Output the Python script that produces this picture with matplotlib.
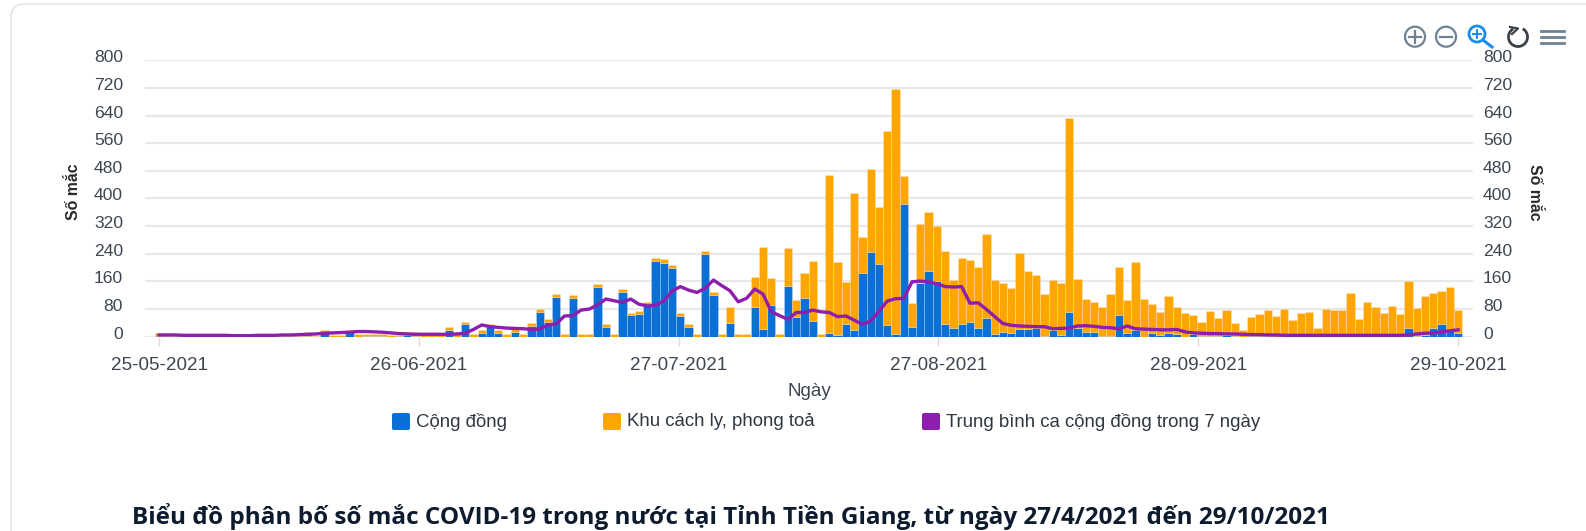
import numpy as np
import matplotlib
matplotlib.use('Agg')
import matplotlib.pyplot as plt
from matplotlib.patches import Circle, FancyBboxPatch, Arc

W, H = 1586, 531

total = [10, 3, 2, 2, 2, 2, 2, 1, 1, 0,
         0, 1, 1, 1, 1, 1, 3, 3, 15, 3,
         19, 5, 5, 19, 7, 9, 8, 7, 4, 6,
         14, 13, 4, 4, 4, 27, 7, 43, 7, 19,
         36, 19, 7, 21, 7, 39, 80, 51, 124, 7,
         121, 7, 7, 152, 37, 7, 138, 70, 74, 101,
         227, 224, 208, 68, 36, 7, 248, 129, 7, 85,
         7, 7, 174, 259, 171, 7, 256, 106, 183, 219,
         7, 467, 216, 159, 417, 289, 485, 374, 596, 716,
         465, 98, 326, 361, 319, 248, 163, 229, 221, 202,
         296, 163, 156, 140, 241, 190, 179, 123, 163, 154,
         634, 168, 108, 99, 85, 124, 203, 106, 215, 109,
         95, 72, 117, 87, 68, 63, 43, 74, 53, 77,
         41, 19, 57, 65, 77, 61, 79, 48, 70, 72,
         26, 79, 77, 76, 126, 52, 100, 85, 70, 88,
         66, 161, 84, 117, 126, 133, 145, 78]

cong_dong = [3, 0, 0, 0, 0, 0, 0, 0, 0, 0,
             0, 0, 0, 0, 0, 0, 0, 0, 2, 0,
             12, 0, 0, 15, 0, 2, 3, 3, 0, 2,
             4, 3, 0, 0, 0, 19, 0, 36, 0, 12,
             29, 12, 0, 14, 0, 31, 72, 43, 116, 0,
             111, 0, 0, 143, 29, 0, 130, 62, 66, 94,
             219, 214, 198, 60, 27, 0, 238, 121, 0, 41,
             0, 0, 85, 21, 92, 0, 148, 58, 112, 45,
             0, 10, 5, 36, 18, 183, 245, 209, 34, 9,
             385, 28, 156, 190, 161, 38, 26, 36, 42, 26,
             53, 7, 14, 10, 23, 23, 26, 2, 19, 4,
             71, 26, 14, 15, 2, 3, 63, 10, 19, 0,
             12, 4, 10, 7, 0, 7, 2, 3, 3, 4,
             1, 0, 1, 1, 1, 0, 0, 0, 0, 0,
             0, 0, 0, 0, 0, 0, 0, 0, 0, 0,
             0, 24, 3, 5, 24, 37, 20, 10]

trung_binh = [5, 5, 5, 4, 4, 4, 4, 4, 4, 3,
              3, 3, 4, 4, 4, 5, 5, 6, 7, 8,
              10, 11, 12, 13, 15, 15, 14, 13, 11, 9,
              8, 7, 7, 7, 7, 7, 8, 10, 21, 34,
              29, 27, 25, 24, 23, 21, 22, 34, 37, 60,
              61, 77, 80, 92, 109, 104, 99, 109, 94, 89,
              91, 103, 132, 145, 135, 128, 140, 164, 148, 133,
              101, 111, 138, 123, 72, 61, 50, 70, 70, 77,
              72, 70, 58, 60, 48, 36, 45, 74, 103, 110,
              111, 159, 161, 159, 153, 145, 144, 145, 97, 98,
              79, 58, 38, 33, 31, 30, 29, 29, 23, 24,
              25, 31, 32, 30, 27, 26, 23, 31, 23, 22,
              21, 20, 20, 21, 14, 11, 10, 9, 9, 8,
              8, 7, 6, 6, 5, 5, 4, 4, 4, 4,
              4, 4, 4, 4, 4, 4, 4, 4, 4, 4,
              4, 5, 8, 10, 11, 14, 17, 20]

date_labels = ['25-05-2021', '26-06-2021', '27-07-2021', '27-08-2021', '28-09-2021', '29-10-2021']
y_ticks = [0, 80, 160, 240, 320, 400, 480, 560, 640, 720, 800]
legend_names = ['Cộng đồng', 'Khu cách ly, phong toả', 'Trung bình ca cộng đồng trong 7 ngày']
title = 'Biểu đồ phân bố số mắc COVID-19 trong nước tại Tỉnh Tiền Giang, từ ngày 27/4/2021 đến 29/10/2021'

BLUE = '#0b70d5'
ORANGE = '#ffa500'
PURPLE = '#8e1fae'
GREY = '#3d4650'

plt.rcParams['font.family'] = ['Liberation Sans', 'DejaVu Sans']

fig = plt.figure(figsize=(W / 100, H / 100), dpi=100)

# page furniture in pixel coordinates
bg = fig.add_axes([0, 0, 1, 1])
bg.set_xlim(0, W)
bg.set_ylim(H, 0)
bg.axis('off')
bg.add_patch(FancyBboxPatch((17, 10), W + 40, H + 40, boxstyle='round,pad=6,rounding_size=14',
                            fc='white', ec='#e4e4ee', lw=1.2))

# chart
ax = fig.add_axes([145 / W, 1 - 336.7 / H, (1473 - 145) / W, (336.7 - 60.3) / H])
ax.patch.set_alpha(0)
x = np.arange(len(total))
blue = np.array(cong_dong)
orange = np.array(total) - blue
ax.bar(x, blue, width=1, color=BLUE, edgecolor='#ffffff40', lw=0.6, zorder=2)
ax.bar(x, orange, width=1, bottom=blue, color=ORANGE, edgecolor='#ffffff40', lw=0.6, zorder=2)
ax.plot(x, trung_binh, color=PURPLE, lw=2.4, solid_joinstyle='round', zorder=3)

ax.set_xlim(-1.7, len(total) - 1 + 1.8)
ax.set_ylim(0, 800)
ax.set_yticks(y_ticks)
ax.set_xticks(np.linspace(0, len(total) - 1, len(date_labels)))
ax.set_xticklabels(date_labels, fontsize=13.6, color=GREY)
ax.tick_params(axis='x', length=6.5, width=1, color='#dcdcdc', pad=8)
ax.tick_params(axis='y', length=0, labelleft=False)
ax.grid(axis='y', color='#e8e8e8', lw=1.6, zorder=0)
ax.set_axisbelow(True)
for s in ax.spines.values():
    s.set_visible(False)

for v in y_ticks:
    yp = 336.7 - v * (336.7 - 60.3) / 800 - 2.5
    bg.text(123, yp, str(v), ha='right', va='center', fontsize=12.6, color=GREY)
    bg.text(1483, yp, str(v), ha='left', va='center', fontsize=12.6, color=GREY)

bg.text(73, 192, 'Số mắc', rotation=90, ha='center', va='center', fontsize=11.4, fontweight='bold', color='#2b2b2b')
bg.text(1535, 192, 'Số mắc', rotation=-90, ha='center', va='center', fontsize=11.4, fontweight='bold', color='#2b2b2b')
bg.text(809, 391, 'Ngày', ha='center', va='center', fontsize=13.5, color=GREY)

# legend
for mx, tx, col, name in zip([392, 603, 922], [416, 627, 946], [BLUE, ORANGE, PURPLE], legend_names):
    bg.add_patch(FancyBboxPatch((mx + 2, 415), 14, 13, boxstyle='round,pad=2,rounding_size=2', fc=col, ec='none'))
    bg.text(tx, 422, name, ha='left', va='center', fontsize=13.4, color='#2f3740')

bg.text(132, 517, title, ha='left', va='center', fontsize=17.5, fontweight='bold',
        family=['Open Sans', 'DejaVu Sans'], color='#0d1b2e')

# toolbar icons
ICON = '#6e8192'
bg.add_patch(Circle((1415, 36.7), 10, fc='none', ec=ICON, lw=1.6))
bg.plot([1409, 1421], [36.7, 36.7], color=ICON, lw=1.6)
bg.plot([1415, 1415], [30.7, 42.7], color=ICON, lw=1.6)
bg.add_patch(Circle((1446, 36.7), 10, fc='none', ec=ICON, lw=1.6))
bg.plot([1440, 1452], [36.7, 36.7], color=ICON, lw=1.6)
bg.add_patch(Circle((1477, 34), 8, fc='none', ec='#1a8cf0', lw=2))
bg.plot([1473, 1481], [34, 34], color='#1a8cf0', lw=1.4)
bg.plot([1477, 1477], [30, 38], color='#1a8cf0', lw=1.4)
bg.plot([1483, 1492], [40, 47], color='#1a8cf0', lw=2.2)
bg.add_patch(Arc((1518, 37), 19, 19, theta1=-60, theta2=240, ec='#3c4248', lw=2))
bg.plot([1510, 1518, 1512], [27, 28.5, 34], color='#3c4248', lw=1.6)
for yy in [31, 37, 43]:
    bg.plot([1541, 1564], [yy, yy], color=ICON, lw=2)

fig.savefig('out.png', dpi=100)
